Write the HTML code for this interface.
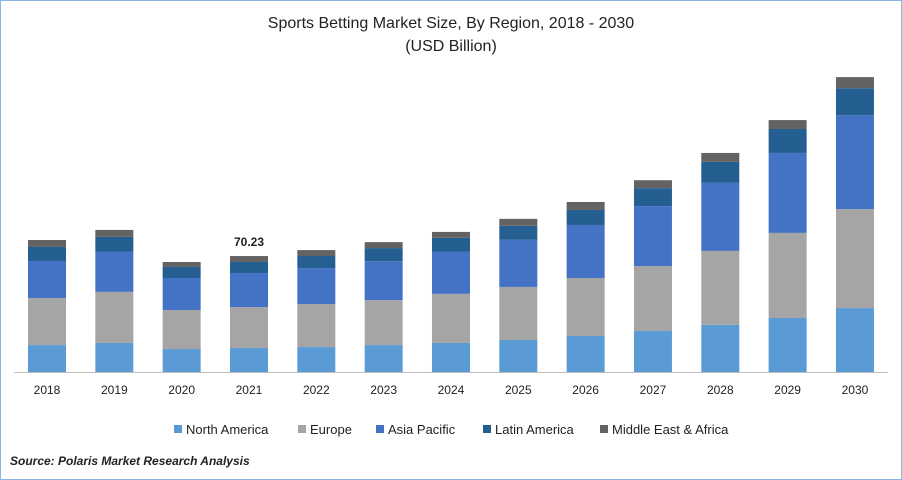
<!DOCTYPE html>
<html><head><meta charset="utf-8"><style>
body{margin:0;background:#fff;}
#wrap{position:relative;width:900px;height:478px;border:1px solid #8eb4e3;font-family:"Liberation Sans",sans-serif;overflow:hidden;}
svg{position:absolute;left:-1px;top:-1px;}
</style></head><body>
<div id="wrap">
<svg id="chart" width="902" height="480">
<text x="451" y="28" text-anchor="middle" font-size="16" fill="#222">Sports Betting Market Size, By Region, 2018 - 2030</text>
<text x="451" y="51" text-anchor="middle" font-size="16" fill="#222">(USD Billion)</text>
<line x1="14" y1="372.5" x2="888" y2="372.5" stroke="#bfbfbf"/>
<g id="bars"></g><g id="xlabels"></g><g id="legend"></g>
<text x="10" y="465" font-size="12" font-weight="bold" font-style="italic" fill="#222">Source: Polaris Market Research Analysis</text>
</svg></div>
<script>
const categories=["2018","2019","2020","2021","2022","2023","2024","2025","2026","2027","2028","2029","2030"];
const seriesNames=["North America","Europe","Asia Pacific","Latin America","Middle East & Africa"];
const northAmerica=[16.3,17.6,13.9,14.5,15.1,16.3,17.6,19.4,21.8,24.8,28.5,32.7,38.7];
const europe=[28.5,30.9,23.6,24.8,26.0,27.2,29.7,32.1,35.1,39.3,44.8,51.5,59.9];
const asiaPacific=[22.4,24.2,19.4,20.6,21.8,23.6,25.4,28.5,32.1,36.3,41.2,48.4,56.9];
const latinAmerica=[8.5,9.1,6.7,6.7,7.3,7.9,8.5,8.5,9.1,10.9,12.7,14.5,16.3];
const middleEast=[4.2,4.2,3.0,3.6,3.6,3.6,3.6,4.2,4.8,4.8,5.4,5.4,6.7];
const labelIndex=3, labelText="70.23";
const series=[northAmerica,europe,asiaPacific,latinAmerica,middleEast];
const colors=["#5b9bd5","#a5a5a5","#4472c4","#255e91","#636363"];
const NS="http://www.w3.org/2000/svg";
const base=372, scale=1.652, x0=47, step=67.33, bw=38;
const xs=i=>x0+i*step, ys=v=>v*scale;
const gb=document.getElementById('bars'),gx=document.getElementById('xlabels'),gl=document.getElementById('legend');
categories.forEach((c,i)=>{
  let acc=0;
  series.forEach((s,k)=>{
    const h=ys(s[i]);const r=document.createElementNS(NS,'rect');
    r.setAttribute('x',xs(i)-bw/2);r.setAttribute('y',base-acc-h);r.setAttribute('width',bw);r.setAttribute('height',h);r.setAttribute('fill',colors[k]);
    
    
    gb.appendChild(r);acc+=h;
  });
  if(i===labelIndex){const t=document.createElementNS(NS,'text');t.setAttribute('x',xs(i));t.setAttribute('y',base-acc-10);t.setAttribute('text-anchor','middle');t.setAttribute('font-size','12');t.setAttribute('font-weight','bold');t.setAttribute('fill','#222');t.textContent=labelText;
    
    
    gb.appendChild(t);}
  const t=document.createElementNS(NS,'text');t.setAttribute('x',xs(i));t.setAttribute('y',394);t.setAttribute('text-anchor','middle');t.setAttribute('font-size','12');t.setAttribute('fill','#222');t.textContent=c;
  
  
  gx.appendChild(t);
});
const lx=[174,298,376,483,600];
seriesNames.forEach((n,k)=>{
  const r=document.createElementNS(NS,'rect');r.setAttribute('x',lx[k]);r.setAttribute('y',425);r.setAttribute('width',8);r.setAttribute('height',8);r.setAttribute('fill',colors[k]);
  
  
  gl.appendChild(r);
  const t=document.createElementNS(NS,'text');t.setAttribute('x',lx[k]+12);t.setAttribute('y',434);t.setAttribute('font-size','13');t.setAttribute('fill','#222');t.textContent=n;
  
  
  gl.appendChild(t);
});
</script>
</body></html>
